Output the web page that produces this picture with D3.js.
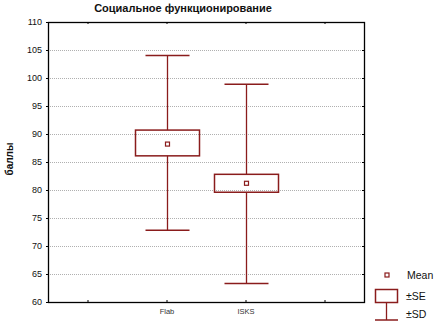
<!DOCTYPE html>
<html><head><meta charset="utf-8">
<script src="https://cdn.jsdelivr.net/npm/d3@7"></script>
<style>body{margin:0;background:#fff}svg{display:block}</style>
</head><body>
<svg id="c" width="440" height="324"></svg>
<script>
const title = "Социальное функционирование";
const yLabel = "баллы";
const slots = ["s0", "Flab", "ISKS", "s3"];
const categories = ["Flab", "ISKS"];
const means = [88.2, 81.2];
const seLow = [86.1, 79.6];
const seHigh = [90.7, 82.8];
const sdLow = [72.8, 63.3];
const sdHigh = [104.0, 98.9];
const yTicks = [60, 65, 70, 75, 80, 85, 90, 95, 100, 105, 110];
const legendLabels = ["Mean", "±SE", "±SD"];

const col = "#8a1c1c";
const svg = d3.select("#c");
const L = 48, T = 22, R = 364, B = 302;
const x = d3.scalePoint().domain(slots).range([L, R]).padding(0.5);
const y = d3.scaleLinear().domain([60, 110]).range([B, T]);

// grid
svg.append("g").selectAll("line").data(yTicks.filter(d => d > 60 && d < 110)).join("line")
  .attr("x1", L).attr("x2", R).attr("y1", d => Math.round(y(d)) + 0.5).attr("y2", d => Math.round(y(d)) + 0.5)
  .attr("stroke", "#b0b0b0").attr("stroke-dasharray", "1,1").attr("stroke-width", 1);

// axes
const yAxis = svg.append("g").attr("transform", `translate(${L},0)`)
  .call(d3.axisLeft(y).tickValues(yTicks).tickSize(2).tickPadding(4));
yAxis.select(".domain").remove();
yAxis.selectAll("text").attr("font-family", "Arial, Liberation Sans, sans-serif").attr("font-size", 9).attr("fill", "#111");
yAxis.selectAll("line").attr("stroke", "#000");

const yAxisR = svg.append("g").attr("transform", `translate(${R},0)`)
  .call(d3.axisLeft(y).tickValues(yTicks).tickSize(2).tickFormat(""));
yAxisR.select(".domain").remove();

const xAxis = svg.append("g").attr("transform", `translate(0,${B})`)
  .call(d3.axisBottom(x).tickSize(-2).tickPadding(7).tickFormat(d => categories.includes(d) ? d : ""));
xAxis.select(".domain").remove();
xAxis.selectAll("text").attr("font-family", "Arial, Liberation Sans, sans-serif").attr("font-size", 7.5).attr("fill", "#333");

const xAxisT = svg.append("g").attr("transform", `translate(0,${T})`)
  .call(d3.axisTop(x).tickSize(-2).tickFormat(""));
xAxisT.select(".domain").remove();

// frame
svg.append("rect").attr("x", L + 0.5).attr("y", T + 0.5).attr("width", R - L).attr("height", B - T)
  .attr("fill", "none").attr("stroke", "#000").attr("stroke-width", 1.3);

// boxes
const boxW = 64, capW = 44;
const g = svg.append("g");
categories.forEach((c, i) => {
  const cx = Math.round(x(c)) + 0.5;
  g.append("line").attr("x1", cx).attr("x2", cx).attr("y1", y(sdHigh[i])).attr("y2", y(seHigh[i])).attr("stroke", col).attr("stroke-width", 1.3);
  g.append("line").attr("x1", cx).attr("x2", cx).attr("y1", y(seLow[i])).attr("y2", y(sdLow[i])).attr("stroke", col).attr("stroke-width", 1.3);
  g.append("line").attr("x1", cx - capW / 2).attr("x2", cx + capW / 2).attr("y1", y(sdHigh[i])).attr("y2", y(sdHigh[i])).attr("stroke", col).attr("stroke-width", 1.5);
  g.append("line").attr("x1", cx - capW / 2).attr("x2", cx + capW / 2).attr("y1", y(sdLow[i])).attr("y2", y(sdLow[i])).attr("stroke", col).attr("stroke-width", 1.5);
  g.append("rect").attr("x", cx - boxW / 2).attr("y", y(seHigh[i])).attr("width", boxW).attr("height", y(seLow[i]) - y(seHigh[i]))
    .attr("fill", "none").attr("stroke", col).attr("stroke-width", 1.5);
  g.append("rect").attr("x", cx - 2).attr("y", y(means[i]) - 2).attr("width", 4).attr("height", 4)
    .attr("fill", "none").attr("stroke", col).attr("stroke-width", 1.2);
});

// title & y label
svg.append("text").attr("x", 183).attr("y", 12).attr("text-anchor", "middle")
  .attr("font-family", "Arial, Liberation Sans, sans-serif").attr("font-weight", "bold").attr("font-size", 11).attr("fill", "#111").text(title);
svg.append("text").attr("transform", "translate(13,159) rotate(-90)").attr("text-anchor", "middle")
  .attr("font-family", "Arial, Liberation Sans, sans-serif").attr("font-weight", "bold").attr("font-size", 10).attr("fill", "#111").text(yLabel);

// legend
const lg = svg.append("g").attr("font-family", "Arial, Liberation Sans, sans-serif").attr("font-size", 10.5).attr("fill", "#111");
lg.append("rect").attr("x", 385).attr("y", 273).attr("width", 4).attr("height", 4).attr("fill", "none").attr("stroke", col).attr("stroke-width", 1.2);
lg.append("text").attr("x", 407).attr("y", 279).text(legendLabels[0]);
lg.append("rect").attr("x", 375.5).attr("y", 289.5).attr("width", 22).attr("height", 13).attr("fill", "none").attr("stroke", col).attr("stroke-width", 1.5);
lg.append("text").attr("x", 406).attr("y", 300).text(legendLabels[1]);
lg.append("line").attr("x1", 386.5).attr("x2", 386.5).attr("y1", 303).attr("y2", 320).attr("stroke", col).attr("stroke-width", 1.3);
lg.append("line").attr("x1", 375).attr("x2", 398).attr("y1", 320).attr("y2", 320).attr("stroke", col).attr("stroke-width", 1.5);
lg.append("text").attr("x", 406).attr("y", 318).text(legendLabels[2]);
</script>
</body></html>
